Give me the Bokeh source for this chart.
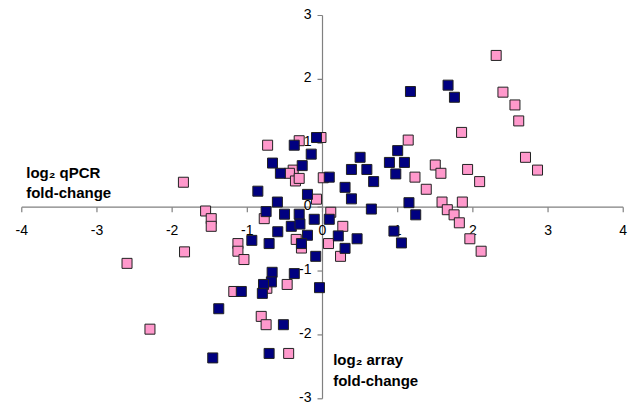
from bokeh.plotting import figure
from bokeh.models import Range1d, Label
from bokeh.core.properties import value
from bokeh.embed import file_html
from bokeh.resources import INLINE

# ---- data (log2 array fold-change, log2 qPCR fold-change) ----
pink_x = [-1.85, -0.73, -0.31, -0.02, -0.39, -0.44, -0.36, -0.31, 0.01, -0.08,
          2.31, 2.40, 2.56, 2.61, 1.85, 1.14, 2.70, 2.86, 1.50, 1.575,
          1.93, 1.23, 2.09, 1.38, 1.59, 1.86, 1.66, 1.75, 1.82, 1.96,
          2.11, 0.11, 0.27, 0.08, 0.24, -1.555, -1.48, -1.48, -1.835, -2.60,
          -2.295, -1.125, -1.125, -1.045, -0.775, -0.35, -0.28, -0.47, -0.74, -1.18,
          -0.815, -0.75, -0.45]
pink_y = [0.39, 0.97, 1.04, 1.09, 0.58, 0.53, 0.41, 0.45, 0.46, 0.125,
          2.375, 1.80, 1.60, 1.35, 1.17, 1.05, 0.78, 0.58, 0.66, 0.53,
          0.59, 0.47, 0.40, 0.28, 0.08, 0.08, -0.04, -0.12, -0.245, -0.495,
          -0.69, -0.08, -0.30, -0.57, -0.77, -0.06, -0.18, -0.30, -0.70, -0.88,
          -1.91, -0.57, -0.69, -0.82, -0.18, -0.505, -0.64, -1.21, -1.27, -1.32,
          -1.71, -1.84, -2.29]

navy_x = [-0.376, -0.08, -0.665, -0.15, -0.27, -0.56, -0.86, -0.60, -0.20, 0.09,
          1.17, 1.67, 1.755, 1.00, 0.50, 0.89, 1.09, 0.385, 0.59, 0.975,
          0.68, 0.30, 0.385, 0.65, 1.15, 1.24, 0.95, 1.05, 0.09, -0.11,
          0.21, 0.46, 0.30, -0.09, -0.04, -1.46, -1.38, -0.94, -0.71, -0.75,
          -0.505, -0.31, -0.595, -0.415, -0.30, -0.20, -0.28, -0.67, -0.375, -0.68,
          -0.785, -0.80, -1.08, -0.52, -0.71]
navy_y = [0.97, 1.09, 0.69, 0.83, 0.65, 0.53, 0.25, 0.08, 0.20, 0.47,
          1.81, 1.91, 1.72, 0.885, 0.78, 0.70, 0.70, 0.59, 0.59, 0.52,
          0.40, 0.31, 0.13, -0.03, 0.07, -0.12, -0.375, -0.56, -0.19, -0.19,
          -0.45, -0.495, -0.645, -0.77, -1.26, -2.36, -1.59, -0.52, -0.57, -0.07,
          -0.11, -0.11, -0.385, -0.30, -0.265, -0.44, -0.57, -1.02, -1.04, -1.17,
          -1.21, -1.35, -1.32, -1.84, -2.29]

x_ticks = [-4, -3, -2, -1, 0, 1, 2, 3, 4]
x_tick_labels = ["-4", "-3", "-2", "-1", "0", "1", "2", "3", "4"]
y_ticks = [-3, -2, -1, 0, 1, 2, 3]
y_tick_labels = ["-3", "-2", "-1", "0", "1", "2", "3"]

W, H = 631, 405
p = figure(width=W, height=H, output_backend="svg", toolbar_location=None,
           x_range=Range1d(-4.283, 4.110), y_range=Range1d(-3.105, 3.235),
           min_border=0, min_border_left=0, min_border_right=0,
           min_border_top=0, min_border_bottom=0)
p.xaxis.visible = False
p.yaxis.visible = False
p.grid.visible = False
p.outline_line_color = None
p.background_fill_color = "white"
p.border_fill_color = "white"

axis_col = "#808080"
px_x = 75.18   # pixels per x unit
px_y = 63.88   # pixels per y unit
tick_len = 5

# axes lines
p.segment(x0=[x_ticks[0]], y0=[0], x1=[x_ticks[-1]], y1=[0], line_color=axis_col, line_width=1.2)
p.segment(x0=[0], y0=[y_ticks[0]], x1=[0], y1=[y_ticks[-1]], line_color=axis_col, line_width=1.2)
# ticks
p.segment(x0=x_ticks, y0=[0] * len(x_ticks), x1=x_ticks, y1=[-tick_len / px_y] * len(x_ticks),
          line_color=axis_col, line_width=1.2)
p.segment(x0=[0] * len(y_ticks), y0=y_ticks, x1=[-tick_len / px_x] * len(y_ticks), y1=y_ticks,
          line_color=axis_col, line_width=1.2)

# tick labels
font = value("Liberation Sans")
p.text(x=x_ticks, y=[0] * len(x_ticks), text=x_tick_labels, text_font=font,
       text_font_size="14px", text_color="black", text_align="center",
       text_baseline="middle", y_offset=23)
p.text(x=[0] * len(y_ticks), y=y_ticks, text=y_tick_labels, text_font=font,
       text_font_size="14px", text_color="black", text_align="right",
       text_baseline="middle", x_offset=-11, y_offset=-2)

# data
p.scatter(pink_x, pink_y, marker="square", size=10, fill_color="#FF99CC",
          line_color="#222222", line_width=1)
p.scatter(navy_x, navy_y, marker="square", size=10, fill_color="#000080",
          line_color="#222222", line_width=1)

# annotations
def lab(x, y, t):
    p.add_layout(Label(x=x, y=y, text=t, text_font="Liberation Sans",
                       text_font_size="15px", text_font_style="bold",
                       text_color="black", text_baseline="alphabetic"))

lab(-3.941, 0.542, "log\u2082 qPCR")
lab(-3.941, 0.229, "fold-change")
lab(0.142, -2.385, "log\u2082 array")
lab(0.142, -2.714, "fold-change")

open("out.html", "w").write(file_html(p, INLINE))
